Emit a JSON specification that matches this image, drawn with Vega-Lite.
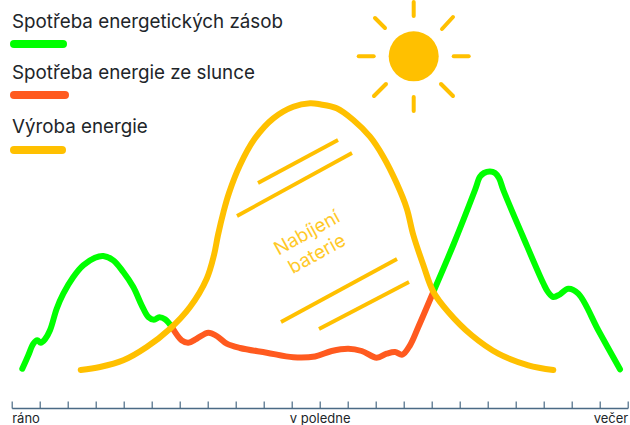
{
"$schema":"https://vega.github.io/schema/vega-lite/v6.json",
"width":616,"height":408,
"autosize":{"type":"none"},
"padding":{"left":11.7,"top":0,"right":2.3,"bottom":17},
"background":"white",
"view":{"stroke":null},
"config":{"font":"Inter"},
"datasets":{
"curves":[
{"s":"green","id":"g1","x":10.6,"y":39.3},{"s":"green","id":"g1","x":16.6,"y":52.7},{"s":"green","id":"g1","x":21.6,"y":64.3},{"s":"green","id":"g1","x":25.6,"y":67.7},{"s":"green","id":"g1","x":29,"y":65.3},{"s":"green","id":"g1","x":33.3,"y":68.7},{"s":"green","id":"g1","x":38.3,"y":77.7},{"s":"green","id":"g1","x":45,"y":99.3},{"s":"green","id":"g1","x":51.6,"y":114.3},{"s":"green","id":"g1","x":61.6,"y":131},{"s":"green","id":"g1","x":71.6,"y":142.7},{"s":"green","id":"g1","x":83.3,"y":150.3},{"s":"green","id":"g1","x":91.6,"y":152},{"s":"green","id":"g1","x":101.6,"y":147.7},{"s":"green","id":"g1","x":111.6,"y":136},{"s":"green","id":"g1","x":121.6,"y":121},{"s":"green","id":"g1","x":130,"y":102.7},{"s":"green","id":"g1","x":136.6,"y":91},{"s":"green","id":"g1","x":142.3,"y":88.3},{"s":"green","id":"g1","x":147.6,"y":90.7},{"s":"green","id":"g1","x":153.3,"y":88.7},{"s":"green","id":"g1","x":160.6,"y":80.3},
{"s":"green","id":"g2","x":421.6,"y":116},{"s":"green","id":"g2","x":442,"y":164},{"s":"green","id":"g2","x":463.3,"y":218},{"s":"green","id":"g2","x":468.3,"y":231.3},{"s":"green","id":"g2","x":472.3,"y":235},{"s":"green","id":"g2","x":478.3,"y":236.5},{"s":"green","id":"g2","x":483.3,"y":235},{"s":"green","id":"g2","x":487.3,"y":230},{"s":"green","id":"g2","x":491.6,"y":218},{"s":"green","id":"g2","x":511,"y":172},{"s":"green","id":"g2","x":531.6,"y":124.7},{"s":"green","id":"g2","x":536.3,"y":116},{"s":"green","id":"g2","x":541.6,"y":111},{"s":"green","id":"g2","x":548.3,"y":113.7},{"s":"green","id":"g2","x":556.6,"y":119.3},{"s":"green","id":"g2","x":566.6,"y":114.3},{"s":"green","id":"g2","x":587,"y":77},{"s":"green","id":"g2","x":608.3,"y":38.7},
{"s":"red","id":"r","x":160.6,"y":80.3},{"s":"red","id":"r","x":170,"y":67.7},{"s":"red","id":"r","x":176.6,"y":65.3},{"s":"red","id":"r","x":185,"y":69.3},{"s":"red","id":"r","x":196.6,"y":75.3},{"s":"red","id":"r","x":205,"y":72},{"s":"red","id":"r","x":215,"y":64.3},{"s":"red","id":"r","x":228.3,"y":60},{"s":"red","id":"r","x":255,"y":55.3},{"s":"red","id":"r","x":281.6,"y":50.7},{"s":"red","id":"r","x":303.3,"y":51.5},{"s":"red","id":"r","x":320,"y":57},{"s":"red","id":"r","x":336.6,"y":59.3},{"s":"red","id":"r","x":350,"y":57},{"s":"red","id":"r","x":365,"y":50.3},{"s":"red","id":"r","x":375,"y":54.3},{"s":"red","id":"r","x":383.3,"y":56},{"s":"red","id":"r","x":390.6,"y":53.3},{"s":"red","id":"r","x":398.3,"y":62.7},{"s":"red","id":"r","x":406.6,"y":81},{"s":"red","id":"r","x":421.6,"y":116},
{"s":"orange","id":"o","x":69,"y":38},{"s":"orange","id":"o","x":88.3,"y":41},{"s":"orange","id":"o","x":111.6,"y":47.7},{"s":"orange","id":"o","x":135,"y":61},{"s":"orange","id":"o","x":158.3,"y":79.3},{"s":"orange","id":"o","x":178.3,"y":101},{"s":"orange","id":"o","x":195,"y":129.3},{"s":"orange","id":"o","x":202.3,"y":153},{"s":"orange","id":"o","x":206.3,"y":173},{"s":"orange","id":"o","x":211.8,"y":196},{"s":"orange","id":"o","x":217.3,"y":215},{"s":"orange","id":"o","x":228.3,"y":243},{"s":"orange","id":"o","x":243.3,"y":269.7},{"s":"orange","id":"o","x":261.6,"y":289.7},{"s":"orange","id":"o","x":281.6,"y":301.3},{"s":"orange","id":"o","x":298.3,"y":304.7},{"s":"orange","id":"o","x":308.3,"y":303.7},{"s":"orange","id":"o","x":325,"y":299.7},{"s":"orange","id":"o","x":341.6,"y":288},{"s":"orange","id":"o","x":358.3,"y":271.3},{"s":"orange","id":"o","x":371.6,"y":251.3},{"s":"orange","id":"o","x":385,"y":224.7},{"s":"orange","id":"o","x":395,"y":199.7},{"s":"orange","id":"o","x":401.6,"y":173},{"s":"orange","id":"o","x":411.6,"y":143},{"s":"orange","id":"o","x":421.6,"y":116.3},{"s":"orange","id":"o","x":436.6,"y":96},{"s":"orange","id":"o","x":460,"y":72.7},{"s":"orange","id":"o","x":486.6,"y":54.3},{"s":"orange","id":"o","x":516.6,"y":42.7},{"s":"orange","id":"o","x":541.6,"y":38}
],
"hatch":[
{"id":"h1","x":246.3,"y":225},{"id":"h1","x":326.3,"y":268},{"id":"h2","x":225.3,"y":192},{"id":"h2","x":340.3,"y":255},{"id":"h3","x":269.3,"y":86},{"id":"h3","x":385.3,"y":149},{"id":"h4","x":307.3,"y":79},{"id":"h4","x":397.3,"y":126}
],
"rays":[
{"id":"t","x":402,"y":392},{"id":"t","x":402,"y":406},{"id":"b","x":402,"y":297},{"id":"b","x":402,"y":311},{"id":"l","x":347,"y":351.7},{"id":"l","x":362,"y":351.7},{"id":"r","x":442,"y":351.7},{"id":"r","x":457,"y":351.7},{"id":"tl","x":363.3,"y":390},{"id":"tl","x":373.3,"y":380},{"id":"tr","x":430.3,"y":379},{"id":"tr","x":441.3,"y":391},{"id":"bl","x":362.3,"y":312},{"id":"bl","x":374.3,"y":324},{"id":"br","x":429.3,"y":324},{"id":"br","x":441.3,"y":312}
],
"swatches":[
{"s":"green","x":2.3,"y":364},{"s":"green","x":51.3,"y":364},{"s":"red","x":2.3,"y":313},{"s":"red","x":53.3,"y":313},{"s":"orange","x":2.3,"y":258},{"s":"orange","x":50.3,"y":258}
]
},
"encoding":{
"x":{"field":"x","type":"quantitative","scale":{"domain":[0,616],"nice":false,"zero":false},
"axis":{"title":null,"grid":false,"values":[0,28,56,84,112,140,168,196,224,252,280,308,336,364,392,420,448,476,504,532,560,588,616],
"domainColor":"#4a6a85","domainWidth":1.6,"tickColor":"#4a6a85","tickWidth":1.2,"tickSize":-7,"labelPadding":11,"labelFontSize":13,"labelColor":"#212529","labelFont":"Inter","labelOverlap":false,"labelBound":false,"labelFlush":false,
"labelExpr":"datum.value==0?'ráno':datum.value==308?'v poledne':datum.value==616?'večer':''",
"labelAlign":{"expr":"datum.value==0?'left':datum.value==616?'right':'center'"}}},
"y":{"field":"y","type":"quantitative","scale":{"domain":[0,408],"nice":false,"zero":false},"axis":null}
},
"layer":[
{"data":{"name":"curves"},"transform":[{"filter":"datum.s=='green'"}],"mark":{"type":"line","interpolate":"catmull-rom","strokeWidth":6,"strokeCap":"round","strokeJoin":"round","color":"#00ff00"},"encoding":{"detail":{"field":"id"}}},
{"data":{"name":"curves"},"transform":[{"filter":"datum.s=='red'"}],"mark":{"type":"line","interpolate":"catmull-rom","strokeWidth":6,"strokeCap":"round","strokeJoin":"round","color":"#ff5a1f"},"encoding":{"detail":{"field":"id"}}},
{"data":{"name":"curves"},"transform":[{"filter":"datum.s=='orange'"}],"mark":{"type":"line","interpolate":"catmull-rom","strokeWidth":6,"strokeCap":"round","strokeJoin":"round","color":"#ffc000"},"encoding":{"detail":{"field":"id"}}},
{"data":{"name":"hatch"},"mark":{"type":"line","strokeWidth":3.8,"color":"#ffc000"},"encoding":{"detail":{"field":"id"}}},
{"data":{"name":"rays"},"mark":{"type":"line","strokeWidth":4,"strokeCap":"round","color":"#ffc000"},"encoding":{"detail":{"field":"id"}}},
{"data":{"values":[{"x":402,"y":351.7}]},"mark":{"type":"point","filled":true,"shape":"circle","size":2500,"color":"#ffc000","opacity":1}},
{"data":{"name":"swatches"},"transform":[{"filter":"datum.s=='green'"}],"mark":{"type":"line","strokeWidth":8,"strokeCap":"round","color":"#00ff00"}},
{"data":{"name":"swatches"},"transform":[{"filter":"datum.s=='red'"}],"mark":{"type":"line","strokeWidth":8,"strokeCap":"round","color":"#ff5a1f"}},
{"data":{"name":"swatches"},"transform":[{"filter":"datum.s=='orange'"}],"mark":{"type":"line","strokeWidth":8,"strokeCap":"round","color":"#ffc000"}},
{"data":{"values":[{"x":0.3,"y":379.7,"t":"Spotřeba energetických zásob"},{"x":0.3,"y":329,"t":"Spotřeba energie ze slunce"},{"x":0.3,"y":275.3,"t":"Výroba energie"}]},"mark":{"type":"text","align":"left","baseline":"alphabetic","font":"Inter","fontSize":18.8,"color":"#212529"},"encoding":{"text":{"field":"t"}}},
{"data":{"values":[{"x":295.3,"y":175,"t":"Nabíjení"},{"x":305.3,"y":154,"t":"baterie"}]},"mark":{"type":"text","align":"center","baseline":"middle","font":"Inter","fontSize":18.8,"angle":331,"color":"#ffc000","opacity":0.85},"encoding":{"text":{"field":"t"}}}
]
}
